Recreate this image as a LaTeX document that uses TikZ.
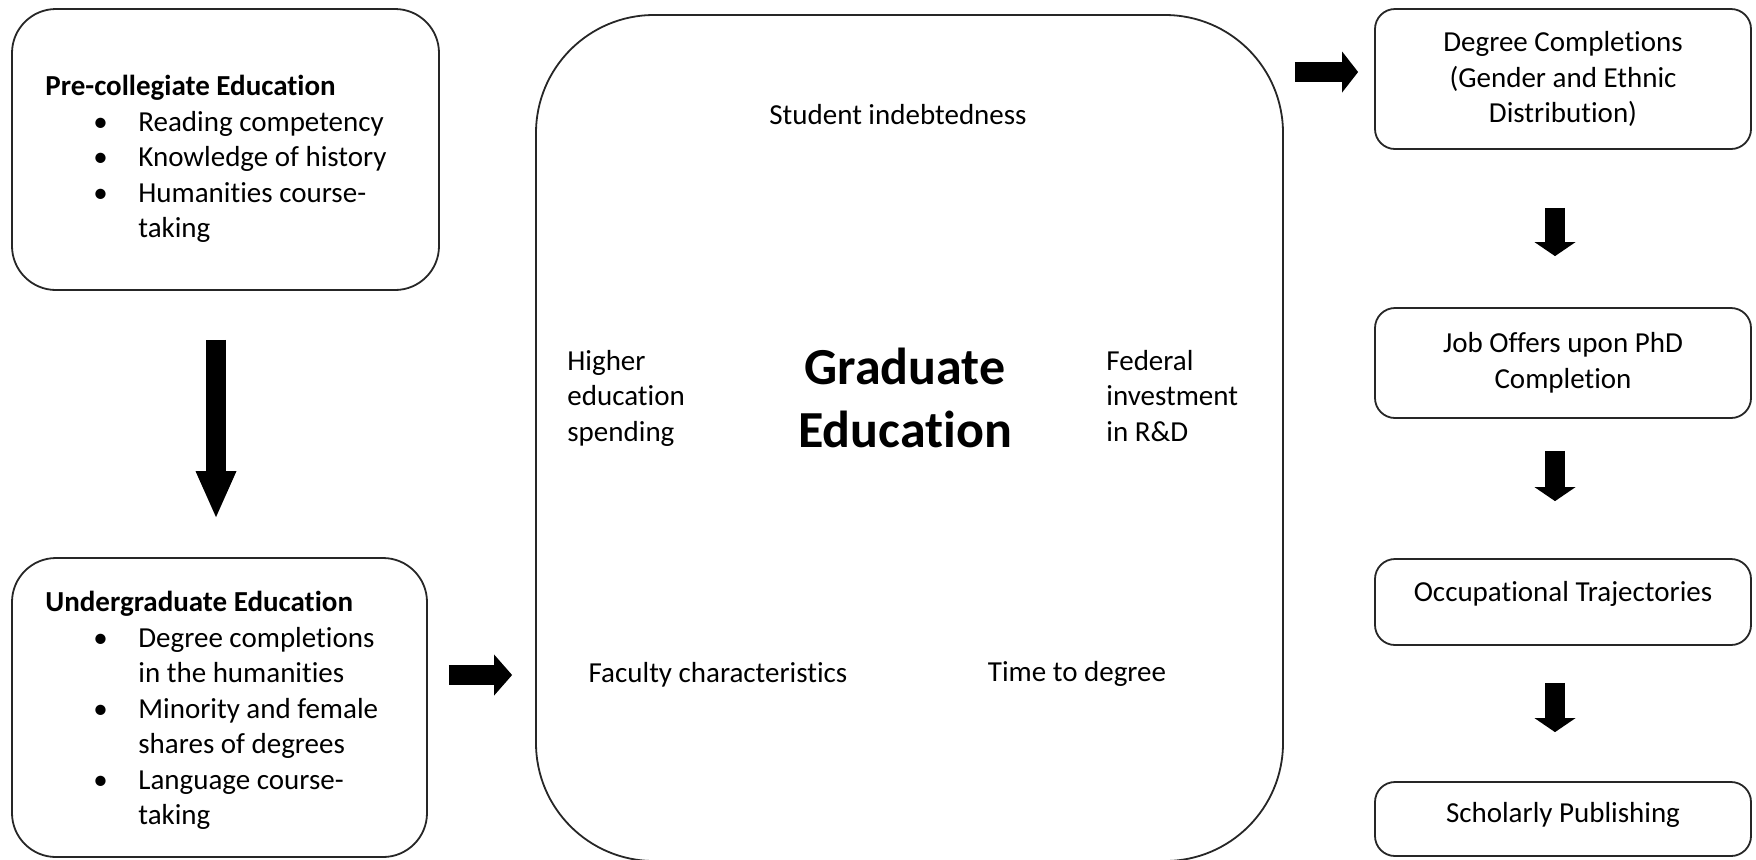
\documentclass[tikz,border=0pt]{standalone}
\usepackage{fontspec}
\setmainfont{Carlito}[Ligatures={NoCommon}]
\usetikzlibrary{arrows.meta,positioning}
\newcommand{\bul}{\makebox[46.5pt][l]{\hspace*{24pt}\textbullet}}
\begin{document}
\begin{tikzpicture}[x=0.5pt,y=-0.5pt,
   lbox/.style={draw=black!85,line width=0.9pt,rounded corners=22pt,inner sep=0pt},
   rbox/.style={draw=black!85,line width=0.9pt,rounded corners=10pt,minimum width=188pt,align=center,inner sep=0pt},
   txt/.style={inner sep=0pt,font=\fontsize{14.5}{17.75}\selectfont},
   blockarrow/.style={line width=10pt,-{Triangle[length=#1,width=20.5pt,line width=0pt]}}]
   \useasboundingbox (0,0) rectangle (1756,859);
   % left column
   \node [lbox,minimum width=213.5pt,minimum height=140.5pt] (pre) at (225.5,149.5) {};
   \node [txt,anchor=north west,align=left] (pretext) at (45,75) {\textbf{Pre-collegiate Education}\\
    \bul Reading competency\\ \bul Knowledge of history\\ \bul Humanities course-\\ \hspace*{46.5pt}taking};
   \node [lbox,minimum width=207.5pt,minimum height=149.5pt] (under) at (219.5,707.5) {};
   \node [txt,anchor=north west,align=left] (undertext) at (45,591) {\textbf{Undergraduate Education}\\
    \bul Degree completions\\ \hspace*{46.5pt}in the humanities\\ \bul Minority and female\\
    \hspace*{46.5pt}shares of degrees\\ \bul Language course-\\ \hspace*{46.5pt}taking};
   % middle
   \node [draw=black!85,line width=0.9pt,rounded corners=59pt,minimum width=373.5pt,minimum height=423pt,inner sep=0pt] (grad) at (909.5,438) {};
   \node [txt] (debt) at (898,115) {Student indebtedness};
   \node [txt,align=left,anchor=west] (spend) at (567,398) {Higher\\education\\spending};
   \node [inner sep=0pt,align=center,font=\fontsize{26}{31.5}\selectfont\bfseries] (gradtitle) at (905,398) {Graduate\\Education};
   \node [txt,align=left,anchor=west] (fed) at (1106,396) {Federal\\investment\\in R\&D};
   \node [txt] (fac) at (718,675) {Faculty characteristics};
   \node [txt] (time) at (1077,674) {Time to degree};
   % right column
   \node [rbox,txt,minimum height=70pt] (deg) at (1563,79) {Degree Completions\\(Gender and Ethnic\\Distribution)};
   \node [rbox,txt,minimum height=55pt] (job) at (1563,363) {Job Offers upon PhD\\Completion};
   \node [rbox,txt,minimum height=43pt,text height=8pt,text depth=8.4pt] (occ) at (1563,602) {Occupational Trajectories};
   \node [rbox,txt,minimum height=37pt,text height=9pt,text depth=5.4pt] (sch) at (1563,819) {Scholarly Publishing};
   \coordinate (gradin) at (grad.west |- under.east);
   \coordinate (gradout) at (grad.east |- deg.west);
   % block arrows
   \draw [blockarrow=23pt,shorten <=24.5pt,shorten >=20pt] ([xshift=-4.75pt]pre.south) -- ([xshift=-1.75pt]under.north);
   \draw [blockarrow=9pt,shorten <=10.5pt,shorten >=11.5pt] ([yshift=16.25pt]under.east) -- ([yshift=16.25pt]gradin);
   \draw [blockarrow=8pt,shorten <=5.5pt,shorten >=8pt] ([yshift=3.5pt]gradout) -- ([yshift=3.5pt]deg.west);
   \draw [blockarrow=7pt,shorten <=29pt,shorten >=25.5pt] ([xshift=-4pt]deg.south) -- ([xshift=-4pt]job.north);
   \draw [blockarrow=7pt,shorten <=16pt,shorten >=28.5pt] ([xshift=-4pt]job.south) -- ([xshift=-4pt]occ.north);
   \draw [blockarrow=7pt,shorten <=18.5pt,shorten >=24.5pt] ([xshift=-4pt]occ.south) -- ([xshift=-4pt]sch.north);
\end{tikzpicture}
\end{document}
